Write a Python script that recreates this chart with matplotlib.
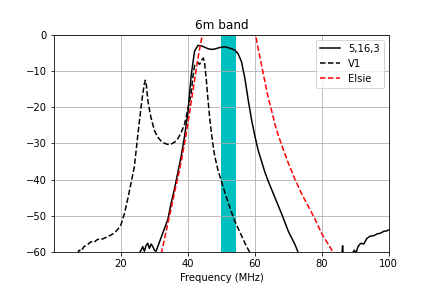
import numpy as np
import matplotlib
matplotlib.use("Agg")
import matplotlib.pyplot as plt

# --------------------------------------------------------------
# Data
# --------------------------------------------------------------
freq_5163 = [25, 26, 26.5, 27, 27.5, 28, 28.5, 29, 29.5, 30, 30.5, 31, 32, 33, 34,
             35, 36, 37, 38, 39, 40, 41, 42, 43, 44, 45, 46, 47, 48, 49, 50, 51,
             52, 53, 54, 55, 56, 57, 58, 59, 60, 61, 62, 63, 64, 66, 68, 70, 72,
             73, 74, 78, 82, 85, 86, 86.2, 86.4, 88, 89, 89.7, 90.2, 90.8, 91.6,
             92.5, 93.5, 94.5, 95.5, 96.5, 97.5, 98.5, 99.3, 100]
db_5163 = [-61, -59.5, -58.5, -59.8, -58.2, -57.6, -59, -57.8, -58.5, -59.5, -59.8,
           -58.5, -56, -53.5, -51, -46.5, -42.5, -38, -33.5, -28, -21.5, -11, -4.5,
           -3.0, -3.1, -3.5, -3.9, -4.1, -4.0, -3.7, -3.5, -3.4, -3.6, -3.9, -4.3,
           -5.3, -7.5, -12, -18, -23.5, -28, -32, -35, -38, -40.5, -45, -49.5,
           -54.3, -58, -60.3, -63, -66, -65, -62, -60.5, -58.3, -61, -61, -60.5,
           -59.5, -60.3, -58.5, -57.6, -57.8, -56.2, -55.6, -55.5, -55, -54.8,
           -54.3, -54.2, -53.9]

freq_v1 = [7, 7.5, 8, 9, 10, 11, 12, 13, 14, 15, 16, 17, 18, 19, 20, 21, 22, 23,
           24, 25, 26, 26.5, 27, 27.3, 27.6, 28, 28.5, 29, 30, 31, 32, 33, 34, 35,
           36, 37, 38, 39, 40, 41, 41.5, 42, 42.5, 43, 43.5, 44, 44.6, 45, 45.5,
           46, 46.5, 47, 47.5, 48, 49, 50, 51, 52, 53, 54, 55, 56, 57, 58, 59]
db_v1 = [-60.5, -59.5, -59.8, -58.5, -58, -57.2, -57.3, -56.5, -56.6, -56.2, -55.8,
         -55.3, -54.8, -53.8, -52.5, -49.5, -45.5, -41, -36.5, -28, -20, -16.5,
         -13.5, -12.6, -14, -18, -20.7, -23, -26.5, -28.3, -29.4, -30, -30.3,
         -30.2, -29.7, -28.7, -27, -24.7, -20.5, -16, -11.5, -8.5, -8, -7.8, -8.2,
         -7.2, -6.5, -8, -12.5, -18, -23, -27, -30.5, -33.5, -37.5, -40.5, -43.5,
         -46.3, -49, -51.5, -53.5, -55.5, -57.5, -59.3, -61]

freq_elsie = [32, 33, 34, 35, 36, 37, 38, 39, 40, 41, 42, 43, 44, 44.5, 50, 55,
              59.8, 60.3, 61, 62, 63, 64, 65, 66, 67, 68, 70, 72, 74, 76, 78, 80,
              82, 84]
db_elsie = [-60.5, -56.5, -52, -48, -43.5, -39.5, -35, -30, -24.5, -18.5, -12.5,
            -6.5, -1.5, 0, 0, 0, 0, -0.5, -4, -8.5, -13, -17.5, -21, -24.8, -27.8,
            -30.5, -35.5, -40, -44, -47.5, -51, -55, -58, -61]

band_lo, band_hi = 50, 54

# --------------------------------------------------------------
# Plot
# --------------------------------------------------------------
fig, ax = plt.subplots(figsize=(6, 4), dpi=72)
fig.subplots_adjust(bottom=0.125)
ax.plot(freq_5163, db_5163, "k-", label="5,16,3")
ax.plot(freq_v1, db_v1, "k--", label="V1")
ax.plot(freq_elsie, db_elsie, "r--", label="Elsie")
ax.axvspan(band_lo, band_hi, color="c")

ax.set_xlim(0, 100)
ax.set_ylim(-60, 0)
ax.set_xticks([20, 40, 60, 80, 100])
ax.grid(True)
ax.set_xlabel("Frequency (MHz)")
ax.set_title("6m band")
ax.legend(loc="upper right")

plt.savefig("out.png", dpi=72)
